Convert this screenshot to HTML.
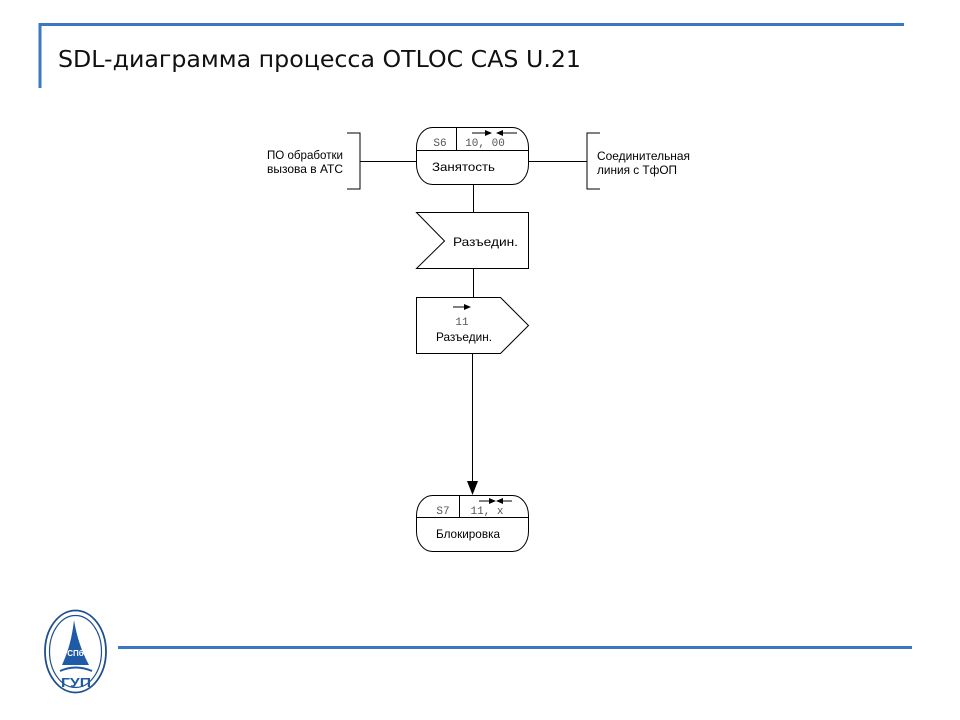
<!DOCTYPE html>
<html>
<head>
<meta charset="utf-8">
<style>
html,body{margin:0;padding:0;background:#fff;}
svg{display:block;}
</style>
</head>
<body>
<svg width="960" height="720" viewBox="0 0 960 720" xmlns="http://www.w3.org/2000/svg">
  <rect width="960" height="720" fill="#fff"/>
  <!-- header lines -->
  <line x1="39" y1="24.5" x2="904" y2="24.5" stroke="#3a78c4" stroke-width="3"/>
  <line x1="40" y1="23" x2="40" y2="88" stroke="#3a78c4" stroke-width="3"/>
  <text x="58" y="67" font-family="'DejaVu Sans', Verdana, sans-serif" font-size="23" fill="#111" textLength="523" lengthAdjust="spacingAndGlyphs">SDL-диаграмма процесса OTLOC CAS U.21</text>

  <!-- footer line -->
  <line x1="118" y1="647.5" x2="912" y2="647.5" stroke="#3a78c4" stroke-width="3"/>

  <!-- logo -->
  <g>
    <ellipse cx="75.5" cy="651.5" rx="30.5" ry="41" fill="none" stroke="#1f4f8f" stroke-width="1.8"/>
    <ellipse cx="75.5" cy="651.5" rx="26" ry="36" fill="none" stroke="#1f4f8f" stroke-width="1.2"/>
    <path d="M74 620 C72 638 68 652 62 665 L89 665 C82 652 77 638 74 620 Z" fill="#1f5aa6"/>
    <text x="75.5" y="656" text-anchor="middle" font-family="'Liberation Sans', sans-serif" font-size="8" font-weight="bold" fill="#fff">СПб</text>
    <path d="M60 671 Q75.5 664 92 671" fill="none" stroke="#1f5aa6" stroke-width="2"/>
    <text x="76" y="687" text-anchor="middle" font-family="'Liberation Sans', sans-serif" font-size="13" font-weight="bold" fill="#1f5aa6" textLength="30" lengthAdjust="spacingAndGlyphs">ГУП</text>
  </g>

  <g font-family="'Liberation Sans', Arial, sans-serif" font-size="12" fill="#000" stroke-linecap="butt">
    <!-- left bracket -->
    <polyline points="347,133 360,133 360,189 347,189" fill="none" stroke="#000" stroke-width="1"/>
    <line x1="360" y1="161.5" x2="416" y2="161.5" stroke="#000" stroke-width="1"/>
    <text x="267" y="159" textLength="76" lengthAdjust="spacingAndGlyphs">ПО обработки</text>
    <text x="267" y="173" textLength="76" lengthAdjust="spacingAndGlyphs">вызова в АТС</text>

    <!-- right bracket -->
    <polyline points="600,133 587,133 587,189 600,189" fill="none" stroke="#000" stroke-width="1"/>
    <line x1="529" y1="161.5" x2="587" y2="161.5" stroke="#000" stroke-width="1"/>
    <text x="597" y="160" textLength="93" lengthAdjust="spacingAndGlyphs">Соединительная</text>
    <text x="597" y="174" textLength="80" lengthAdjust="spacingAndGlyphs">линия с ТфОП</text>

    <!-- State S6 -->
    <rect x="416.5" y="127.5" width="112" height="57" rx="16" ry="20" fill="#fff" stroke="#000" stroke-width="1"/>
    <line x1="416.5" y1="150.5" x2="528.5" y2="150.5" stroke="#000" stroke-width="1"/>
    <line x1="456.5" y1="127.5" x2="456.5" y2="150.5" stroke="#000" stroke-width="1"/>
    <text x="440" y="146" text-anchor="middle" font-family="'Liberation Mono', monospace" font-size="11" fill="#555">S6</text>
    <text x="485" y="146" text-anchor="middle" font-family="'Liberation Mono', monospace" font-size="11" fill="#555">10, 00</text>
    <line x1="472" y1="133" x2="487" y2="133" stroke="#000" stroke-width="1"/>
    <polygon points="492,133 485,130 485,136" fill="#000"/>
    <line x1="517" y1="133" x2="501" y2="133" stroke="#000" stroke-width="1"/>
    <polygon points="496,133 503,130 503,136" fill="#000"/>
    <text x="432" y="171" textLength="63" lengthAdjust="spacingAndGlyphs">Занятость</text>

    <!-- connector -->
    <line x1="473.5" y1="185" x2="473.5" y2="213" stroke="#000" stroke-width="1"/>

    <!-- input signal -->
    <polygon points="416.5,212.5 528.5,212.5 528.5,268.5 416.5,268.5 444.5,241" fill="#fff" stroke="#000" stroke-width="1"/>
    <text x="453" y="246" textLength="65" lengthAdjust="spacingAndGlyphs">Разъедин.</text>

    <line x1="473.5" y1="269" x2="473.5" y2="297" stroke="#000" stroke-width="1"/>

    <!-- output signal -->
    <polygon points="416.5,297.5 500.5,297.5 528.5,325.5 500.5,353.5 416.5,353.5" fill="#fff" stroke="#000" stroke-width="1"/>
    <line x1="453" y1="307" x2="466" y2="307" stroke="#000" stroke-width="1"/>
    <polygon points="471,307 464,304 464,310" fill="#000"/>
    <text x="462" y="325" text-anchor="middle" font-family="'Liberation Mono', monospace" font-size="11" fill="#555">11</text>
    <text x="436" y="341" textLength="56" lengthAdjust="spacingAndGlyphs">Разъедин.</text>

    <!-- connector with arrow -->
    <line x1="472.5" y1="354" x2="472.5" y2="484" stroke="#000" stroke-width="1"/>
    <polygon points="472.5,495 467,481 478,481" fill="#000"/>

    <!-- State S7 -->
    <rect x="416.5" y="495.5" width="112" height="56" rx="16" ry="20" fill="#fff" stroke="#000" stroke-width="1"/>
    <line x1="416.5" y1="517.5" x2="528.5" y2="517.5" stroke="#000" stroke-width="1"/>
    <line x1="459.5" y1="495.5" x2="459.5" y2="517.5" stroke="#000" stroke-width="1"/>
    <text x="443" y="514" text-anchor="middle" font-family="'Liberation Mono', monospace" font-size="11" fill="#555">S7</text>
    <text x="487" y="514" text-anchor="middle" font-family="'Liberation Mono', monospace" font-size="11" fill="#555">11, x</text>
    <line x1="479" y1="501" x2="491" y2="501" stroke="#000" stroke-width="1"/>
    <polygon points="496,501 489,498 489,504" fill="#000"/>
    <line x1="512" y1="501" x2="501" y2="501" stroke="#000" stroke-width="1"/>
    <polygon points="496,501 503,498 503,504" fill="#000"/>
    <text x="436" y="538" textLength="64" lengthAdjust="spacingAndGlyphs">Блокировка</text>
  </g>
</svg>
</body>
</html>
